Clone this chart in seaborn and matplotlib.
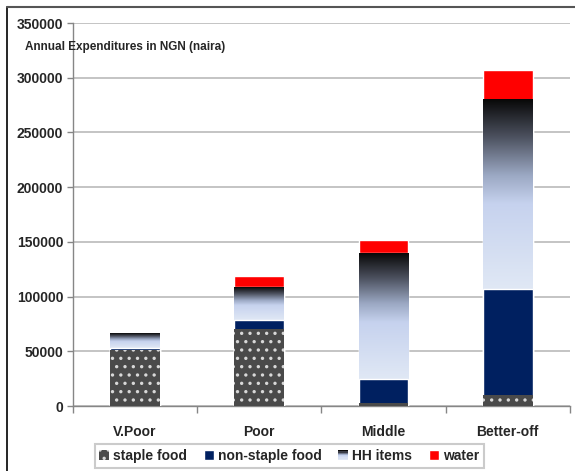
import numpy as np
import pandas as pd
import matplotlib
matplotlib.use('Agg')
import matplotlib.pyplot as plt
import seaborn as sns
from matplotlib.colors import LinearSegmentedColormap
from matplotlib.patches import Patch, Rectangle
from matplotlib.legend_handler import HandlerBase
from matplotlib.lines import Line2D

groups = ['V.Poor', 'Poor', 'Middle', 'Better-off']
staple = [51500, 70000, 2500, 10000]
non_staple = [1500, 9000, 22500, 96500]
hh_items = [13000, 30000, 115000, 173500]
water = [0, 10000, 11500, 27000]
yticks = [0, 50000, 100000, 150000, 200000, 250000, 300000, 350000]

df = pd.DataFrame({'group': groups, 'staple': staple, 'non_staple': non_staple,
                   'hh': hh_items, 'water': water})
df['c1'] = df['staple']
df['c2'] = df['c1'] + df['non_staple']
df['c3'] = df['c2'] + df['hh']
df['c4'] = df['c3'] + df['water']

sns.set_style('white')
plt.rcParams['font.family'] = ['Liberation Sans', 'DejaVu Sans']
plt.rcParams['hatch.linewidth'] = 1.2

grey_dark = '#4a4a4a'
navy = '#002060'
red = '#ff0000'
hh_cmap = LinearSegmentedColormap.from_list(
    'hh', [(0, '#e0e8f5'), (0.45, '#c6d2ee'), (0.6, '#9ba8c3'),
           (0.8, '#4d5260'), (1.0, '#080808')])

fig = plt.figure(figsize=(5.75, 4.71), dpi=100)
ax = fig.add_axes([0.127, 0.138, 0.864, 0.813])
bw = 0.4

# stacked bars: cumulative layers drawn from the top down
sns.barplot(data=df, x='group', y='c4', color=red, width=bw, ax=ax, saturation=1, zorder=2)
sns.barplot(data=df, x='group', y='c3', color='#c6d2ee', width=bw, ax=ax, saturation=1, zorder=2)
sns.barplot(data=df, x='group', y='c2', color=navy, width=bw, ax=ax, saturation=1, zorder=4)
n0 = len(ax.patches)
sns.barplot(data=df, x='group', y='c1', color=grey_dark, width=bw, ax=ax, saturation=1, zorder=5)
for p in ax.patches[n0:]:
    p.set_hatch('..')
    p.set_edgecolor('#d8d8d8')
    p.set_linewidth(0)

# gradient fill for HH items
grad = np.linspace(0, 1, 256).reshape(-1, 1)
for i, row in df.iterrows():
    if row['hh'] > 0:
        ax.imshow(grad, cmap=hh_cmap, origin='lower', aspect='auto',
                  extent=[i - bw / 2, i + bw / 2, row['c2'], row['c3']], zorder=3)

ax.set_xlim(-0.5, 3.5)
ax.set_ylim(0, 350000)
ax.set_yticks(yticks)
ax.set_yticklabels([str(v) for v in yticks], fontsize=10, fontweight='bold')
ax.set_xticks(range(len(groups)))
ax.set_xticklabels(groups, fontsize=10, fontweight='bold')
ax.set_xticks(np.arange(-0.5, 4, 1), minor=True)
ax.tick_params(axis='x', which='major', length=0, pad=14)
ax.tick_params(axis='x', which='minor', length=5, color='#868686', width=1,
               bottom=True, top=False)
ax.tick_params(axis='y', length=4, color='#868686', width=1, pad=3, left=True, right=False)
ax.set_xlabel('')
ax.set_ylabel('')
ax.yaxis.grid(True, color='#bfbfbf', lw=1.3, zorder=0)
ax.xaxis.grid(False)
ax.set_axisbelow(True)
for s in ['top', 'right']:
    ax.spines[s].set_visible(False)
for s in ['left', 'bottom']:
    ax.spines[s].set_color('#868686')
    ax.spines[s].set_linewidth(1)

fig.text(25 / 575, 1 - 47 / 471, 'Annual Expenditures in NGN (naira)',
         fontsize=8.5, fontweight='bold', va='center', ha='left')


class GradHandler(HandlerBase):
    def create_artists(self, legend, orig, xd, yd, w, h, fontsize, trans):
        arts = []
        n = 8
        for k in range(n):
            c = hh_cmap(k / (n - 1))
            arts.append(Rectangle((xd, yd + h * k / n), w, h / n, facecolor=c,
                                  edgecolor='none', transform=trans))
        return arts


class HHPatch(Patch):
    pass


h_staple = Patch(facecolor=grey_dark, edgecolor='#d8d8d8', hatch='..', linewidth=0)
h_non = Patch(facecolor=navy)
h_hh = HHPatch(facecolor='#c6d2ee')
h_water = Patch(facecolor=red)
leg = fig.legend([h_staple, h_non, h_hh, h_water],
                 ['staple food', 'non-staple food', 'HH items', 'water'],
                 loc='center', bbox_to_anchor=(0.503, 0.032), ncol=4,
                 handler_map={HHPatch: GradHandler()},
                 prop={'weight': 'bold', 'size': 10}, fancybox=False,
                 handlelength=0.7, handleheight=0.7, handletextpad=0.3,
                 columnspacing=1.2, borderpad=0.35)
leg.get_frame().set_edgecolor('#bfbfbf')
leg.get_frame().set_linewidth(1.5)

# outer frame lines (left and top)
fig.add_artist(Line2D([7 / 575, 7 / 575], [0, 1 - 7 / 471], color='black', lw=1.2,
                      transform=fig.transFigure))
fig.add_artist(Line2D([7 / 575, 1], [1 - 7 / 471, 1 - 7 / 471], color='#555555', lw=1.5,
                      transform=fig.transFigure))

fig.savefig('out.png', dpi=100)
